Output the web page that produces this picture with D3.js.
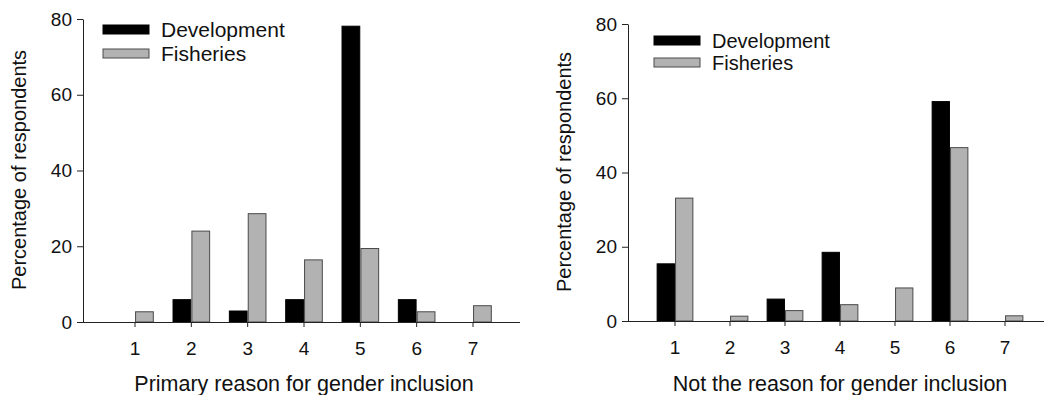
<!DOCTYPE html>
<html>
<head>
<meta charset="utf-8">
<script src="https://cdn.jsdelivr.net/npm/d3@7"></script>
<style>
  body { margin: 0; background: #fff; }
  svg text { font-family: "Liberation Sans", Arial, sans-serif; fill: #111; }
</style>
</head>
<body>
<div id="chart"></div>
<script>
// categories and series values
const categories = ["1", "2", "3", "4", "5", "6", "7"]
const seriesNames = ["Development", "Fisheries"]
const yTicks = [0, 20, 40, 60, 80]

const primaryDevelopment = [0, 5.9, 2.9, 5.9, 78.1, 5.9, 0]
const primaryFisheries = [2.7, 24.0, 28.6, 16.4, 19.4, 2.7, 4.3]

const notDevelopment = [15.4, 0, 5.9, 18.5, 0, 59.1, 0]
const notFisheries = [33.1, 1.3, 2.8, 4.4, 8.9, 46.7, 1.4]

const svgWidth = 1044
const svgHeight = 395

const colors = { Development: "#000000", Fisheries: "#b2b2b2" }
const strokes = { Development: "#000000", Fisheries: "#4a4a4a" }

let svg = d3
	.select("#chart")
	.append("svg")
	.attr("width", svgWidth)
	.attr("height", svgHeight)

// draws one panel
function drawPanel(opts) {
	let g = svg.append("g")

	let y = d3.scaleLinear().domain([0, 80]).range([opts.y0, opts.y80])

	let x = d3
		.scaleBand()
		.domain(categories)
		.range([opts.first - opts.step / 2, opts.last + opts.step / 2])
		.padding(0)

	// sub scale for the two bars in each group
	let half = opts.step * 0.325
	let xSub = d3
		.scaleBand()
		.domain(seriesNames)
		.range([x.bandwidth() / 2 - half, x.bandwidth() / 2 + half])
		.paddingInner(0.06)

	let rows = categories.map((c, i) => ({
		cat: c,
		Development: opts.dev[i],
		Fisheries: opts.fish[i]
	}))

	// bars
	let groups = g
		.selectAll(".grp")
		.data(rows)
		.enter()
		.append("g")
		.attr("transform", d => `translate(${x(d.cat)}, 0)`)

	groups
		.selectAll("rect")
		.data(d => seriesNames.map(s => ({ key: s, value: d[s] })).filter(d => d.value > 0))
		.enter()
		.append("rect")
		.attr("x", d => xSub(d.key))
		.attr("y", d => y(d.value))
		.attr("width", xSub.bandwidth())
		.attr("height", d => y(0) - y(d.value))
		.attr("fill", d => colors[d.key])
		.attr("stroke", d => strokes[d.key])
		.attr("stroke-width", 1)

	// y axis
	let leftAxis = d3.axisLeft(y).tickValues(yTicks).tickSize(6).tickSizeOuter(0).tickPadding(5)
	let yAxis = g
		.append("g")
		.attr("transform", `translate(${opts.axisX}, 0)`)
		.call(leftAxis)
	yAxis.selectAll("text").style("font-size", "19px")
	yAxis.selectAll("line, path").attr("stroke", "#222")

	// x axis
	let bottomAxis = d3.axisBottom(x).tickSize(5).tickSizeOuter(0).tickPadding(15)
	let xAxis = g
		.append("g")
		.attr("transform", `translate(0, ${opts.y0})`)
		.call(bottomAxis)
	xAxis.select(".domain").remove()
	xAxis.selectAll("line").attr("stroke", "#222")
	xAxis.selectAll("text").style("font-size", "19px")

	g.append("line")
		.attr("x1", opts.axisX)
		.attr("x2", opts.xEnd)
		.attr("y1", opts.y0 + 0.5)
		.attr("y2", opts.y0 + 0.5)
		.attr("stroke", "#222")

	// axis titles
	g.append("text")
		.attr("x", opts.xTitleX)
		.attr("y", opts.xTitleY)
		.attr("text-anchor", "middle")
		.style("font-size", "21.5px")
		.text(opts.xTitle)

	g.append("text")
		.attr("transform", `translate(${opts.yTitleX}, ${opts.yTitleY}) rotate(-90)`)
		.attr("text-anchor", "middle")
		.style("font-size", "20px")
		.text("Percentage of respondents")

	// legend
	let legend = g
		.append("g")
		.attr("transform", `translate(${opts.legX}, ${opts.legY})`)
	seriesNames.forEach((s, i) => {
		legend
			.append("rect")
			.attr("x", 0)
			.attr("y", i * opts.legGap)
			.attr("width", 46)
			.attr("height", 9)
			.attr("fill", colors[s])
			.attr("stroke", strokes[s])
		legend
			.append("text")
			.attr("x", 58)
			.attr("y", i * opts.legGap + 4.5)
			.attr("dy", "0.36em")
			.style("font-size", opts.legFont)
			.text(s)
	})
}

drawPanel({
	dev: primaryDevelopment,
	fish: primaryFisheries,
	axisX: 83,
	xEnd: 520,
	y0: 322,
	y80: 19,
	first: 135,
	last: 473,
	step: (473 - 135) / 6,
	xTitle: "Primary reason for gender inclusion",
	xTitleX: 304,
	xTitleY: 391,
	yTitleX: 26,
	yTitleY: 170,
	legX: 103,
	legY: 25,
	legGap: 24,
	legFont: "21px"
})

drawPanel({
	dev: notDevelopment,
	fish: notFisheries,
	axisX: 628,
	xEnd: 1044,
	y0: 321,
	y80: 24,
	first: 675,
	last: 1005,
	step: (1005 - 675) / 6,
	xTitle: "Not the reason for gender inclusion",
	xTitleX: 840,
	xTitleY: 391,
	yTitleX: 571,
	yTitleY: 172,
	legX: 654,
	legY: 36,
	legGap: 22,
	legFont: "20px"
})
</script>
</body>
</html>
